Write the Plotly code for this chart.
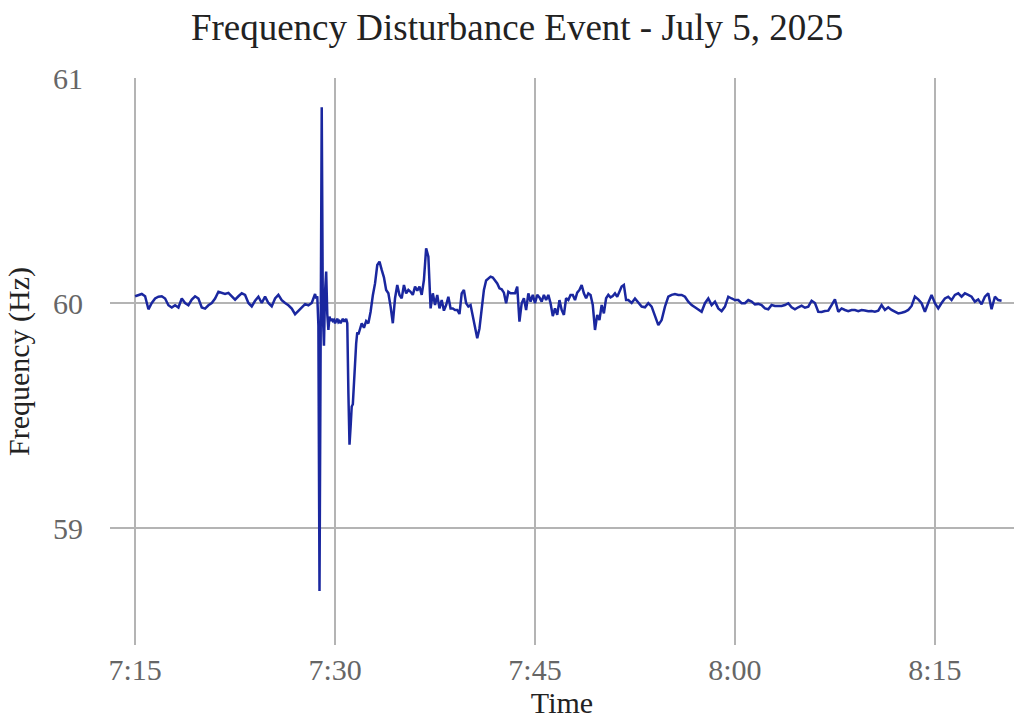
import pandas as pd
import plotly.graph_objects as go

# sample times: 15 s before the event, 5 s through it, 10 s during the
# noisy recovery, then 15 s to the end
times_pre = pd.date_range("2025-07-05 07:15:00", periods=54, freq="15s")
times_event = pd.date_range("2025-07-05 07:28:30", periods=42, freq="5s")
times_recovery = pd.date_range("2025-07-05 07:32:00", periods=120, freq="10s")
times_post = pd.date_range("2025-07-05 07:52:00", periods=113, freq="15s")

freq_pre = [
    60.03, 60.035, 60.04, 60.03, 59.972, 60.0, 60.02, 60.028, 60.03, 60.02,
    59.99, 59.98, 59.99, 59.98, 60.02, 60.0, 59.99, 60.015, 60.03, 60.02,
    59.98, 59.975, 59.99, 60.0, 60.02, 60.05, 60.045, 60.04, 60.045, 60.03,
    60.015, 60.03, 60.043, 60.036, 60.0, 59.985, 60.01, 60.028, 60.0, 60.028,
    60.0, 59.985, 60.02, 60.036, 60.013, 60.0, 59.99, 59.975, 59.95, 59.965,
    59.98, 59.995, 59.99, 60.0,
]

freq_event = [
    60.04, 60.02, 60.03, 59.9, 58.72, 60.2, 60.87, 59.95, 59.81, 60.05,
    60.14, 59.95, 59.88, 59.94, 59.92, 59.93, 59.92, 59.925, 59.91, 59.92,
    59.93, 59.915, 59.92, 59.91, 59.92, 59.93, 59.92, 59.92, 59.93, 59.91,
    59.6, 59.37, 59.45, 59.54, 59.55, 59.62, 59.73, 59.82, 59.87, 59.86,
    59.88, 59.9,
]

freq_recovery = [
    59.91, 59.89, 59.92, 59.91, 59.961, 60.033, 60.087, 60.169, 60.184, 60.147,
    60.114, 60.058, 60.043, 59.984, 59.91, 60.021, 60.08, 60.036, 60.021, 60.08,
    60.043, 60.058, 60.05, 60.036, 60.073, 60.055, 60.073, 60.036, 60.102, 60.243,
    60.206, 59.976, 60.043, 59.991, 60.036, 59.976, 60.013, 59.966, 59.991, 60.028,
    59.976, 59.976, 59.969, 59.969, 59.951, 60.043, 60.058, 59.999, 59.984, 59.991,
    59.939, 59.895, 59.843, 59.887, 59.984, 60.058, 60.1, 60.11, 60.117, 60.113,
    60.102, 60.087, 60.065, 60.061, 60.046, 59.999, 60.05, 60.043, 60.043, 60.043,
    60.073, 59.917, 59.999, 60.021, 59.969, 60.043, 60.006, 60.036, 59.999, 60.036,
    60.025, 60.006, 60.036, 60.013, 60.036, 59.999, 59.942, 59.976, 59.947, 60.013,
    59.969, 59.947, 60.021, 60.013, 60.036, 60.036, 60.013, 60.046, 60.058, 60.08,
    60.043, 60.021, 60.043, 60.036, 59.991, 59.88, 59.947, 59.924, 59.991, 59.954,
    60.021, 60.036, 60.025, 60.031, 60.043, 60.028, 60.05, 60.073, 60.08, 60.013,
]

freq_post = [
    60.013, 60.0, 60.02, 60.0, 59.984, 59.981, 59.999, 59.984, 59.939, 59.902,
    59.924, 59.984, 60.028, 60.036, 60.04, 60.036, 60.036, 60.028, 60.006, 59.991,
    59.981, 59.972, 59.961, 59.999, 60.02, 59.991, 60.006, 59.976, 59.964, 59.984,
    60.028, 60.02, 60.013, 60.013, 59.999, 59.999, 60.013, 60.006, 59.994, 59.996,
    59.991, 59.976, 59.972, 59.991, 59.987, 59.987, 59.987, 59.991, 59.999, 59.981,
    59.972, 59.981, 59.988, 59.979, 59.984, 60.01, 60.0, 59.961, 59.96, 59.964,
    59.966, 59.991, 60.016, 59.961, 59.976, 59.969, 59.964, 59.969, 59.969, 59.964,
    59.969, 59.967, 59.963, 59.964, 59.961, 59.966, 59.991, 59.969, 59.981, 59.969,
    59.96, 59.954, 59.957, 59.961, 59.969, 59.987, 60.028, 60.016, 59.999, 59.961,
    60.0, 60.036, 59.999, 59.976, 60.0, 60.02, 60.028, 60.013, 60.036, 60.043,
    60.028, 60.043, 60.036, 60.028, 60.006, 60.016, 59.994, 60.028, 60.043, 59.972,
    60.028, 60.013, 60.01,
]

times = list(times_pre) + list(times_event) + list(times_recovery) + list(times_post)
freq = freq_pre + freq_event + freq_recovery + freq_post

serif = "Liberation Serif, Times New Roman, serif"
grid = "#b4b4b4"

fig = go.Figure(go.Scatter(
    x=times,
    y=freq,
    mode="lines",
    line=dict(color="#1a279f", width=2.5),
    hovertemplate="%{x|%H:%M:%S}<br>%{y:.3f} Hz<extra></extra>",
))

fig.update_layout(
    width=1014,
    height=719,
    title=dict(
        text="Frequency Disturbance Event - July 5, 2025",
        font=dict(family=serif, size=37, color="#222222"),
        x=0.51,
        xref="container",
        xanchor="center",
        y=0.962,
        yanchor="middle",
    ),
    font=dict(family=serif),
    plot_bgcolor="white",
    paper_bgcolor="white",
    showlegend=False,
    margin=dict(t=78, b=74, l=110, r=0),
    xaxis=dict(
        type="date",
        range=["2025-07-05 07:13:07", "2025-07-05 08:20:56"],
        tick0="2025-07-05 07:15:00",
        dtick=15 * 60 * 1000,
        tickformat="%-H:%M",
        showgrid=True,
        gridcolor=grid,
        gridwidth=2,
        zeroline=False,
        showline=False,
        ticks="",
        ticklabelstandoff=4,
        tickfont=dict(family=serif, size=30, color="#666666"),
        title=dict(text="Time", standoff=0,
                   font=dict(family=serif, size=30, color="#222222")),
    ),
    yaxis=dict(
        range=[58.48, 61.0],
        tickvals=[59, 60, 61],
        showgrid=True,
        gridcolor=grid,
        gridwidth=2,
        zeroline=False,
        showline=False,
        ticks="",
        ticklabelstandoff=26,
        tickfont=dict(family=serif, size=30, color="#666666"),
        title=dict(text="Frequency (Hz)", standoff=14,
                   font=dict(family=serif, size=30, color="#222222")),
    ),
)

# drop the default page margin so the figure fills the window exactly
fig.write_html(
    "out.html",
    config={"displayModeBar": False},
    post_script="document.body.style.margin='0';document.body.style.overflow='hidden';",
)
